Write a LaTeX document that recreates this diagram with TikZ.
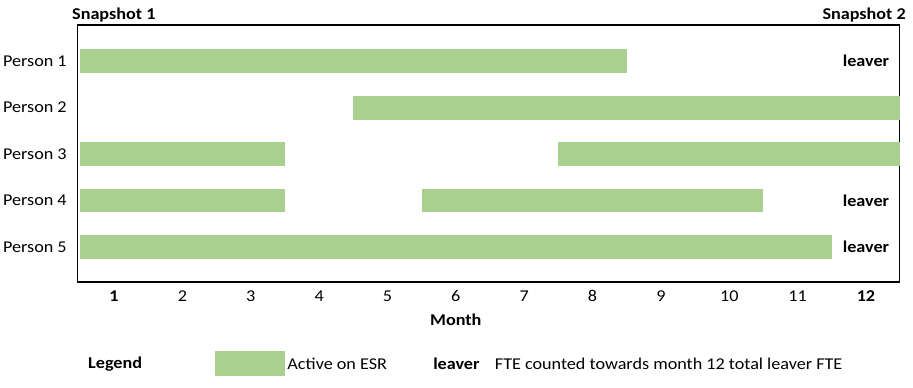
\documentclass[tikz,border=0pt]{standalone}
\usepackage{fontspec}
\setmainfont[FakeStretch=1.1]{Carlito}
\usetikzlibrary{positioning}
\definecolor{esrgreen}{HTML}{A9D08E}
\tikzset{%
  every person/.style={
    anchor=east,
    inner sep=0pt,
    font=\fontsize{16.5}{19}\selectfont
  },
  active bar/.style={
    fill=esrgreen,
    draw=none
  },
  leaver label/.style={
    inner sep=0pt,
    font=\fontsize{16.5}{19}\selectfont\bfseries
  },
  month label/.style={
    inner sep=0pt,
    font=\fontsize{16.5}{19}\selectfont
  },
}

\begin{document}
\begin{tikzpicture}[x=68.36pt, y=-46.5pt]
\useasboundingbox (-0.668,-0.312) rectangle (12.688,8.011);
\draw[line width=1.3pt] (0.47,0.226) rectangle (12.49,5.753);
    \foreach \r in {1,...,5}
        \node[every person] (person_\r) at (0.31,\r) {Person \r};

    \foreach \r/\a/\b in {1/0.5/8.5, 2/4.5/12.5, 3/0.5/3.5, 3/7.5/12.5,
                          4/0.5/3.5, 4/5.5/10.5, 5/0.5/11.5}
        \fill[active bar] (\a,\r-0.258) rectangle (\b,\r+0.258);

    \foreach \r in {1,4,5}
        \node[leaver label] (leaver_\r) at (12,\r) {leaver};

    \node[leaver label, anchor=west] (snap_1) at (0.385,0.02) {Snapshot 1};
    \node[leaver label, anchor=east] (snap_2) at (12.585,0.02) {Snapshot 2};

    \node[leaver label] (month_1) at (1,6.054) {1};
    \foreach \m in {2,...,11}
        \node[month label] (month_\m) at (\m,6.054) {\m};
    \node[leaver label] (month_12) at (12,6.054) {12};
    \node[leaver label] (month_title) at (6,6.57) {Month};

    % legend
    \node[leaver label, anchor=west] (legend_title) at (0.62,7.516) {Legend};
    \node[active bar, minimum width=70pt, minimum height=25pt, inner sep=0pt] (legend_box) at (2.99,7.516) {};
    \node[month label, right=2pt of legend_box] (legend_active) {Active on ESR};
    \node[leaver label, anchor=west] (legend_leaver) at (5.667,7.516) {leaver};
    \node[month label, right=15pt of legend_leaver] (legend_fte) {FTE counted towards month 12 total leaver FTE};
\end{tikzpicture}
\end{document}
